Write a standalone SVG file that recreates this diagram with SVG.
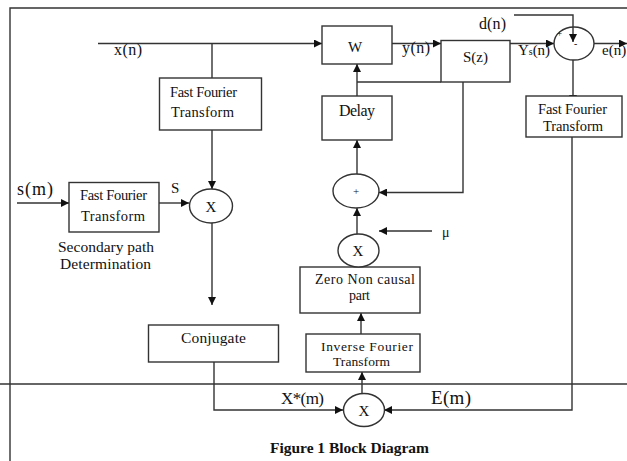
<svg xmlns="http://www.w3.org/2000/svg" width="627" height="461" viewBox="0 0 627 461">
<defs>
<marker id="arr" viewBox="0 0 10 10" refX="10" refY="5" markerWidth="8" markerHeight="8" markerUnits="userSpaceOnUse" orient="auto"><path d="M0,0 L10,5 L0,10 z" fill="#111"/></marker>
<style>
.box{fill:#fff;stroke:#333;stroke-width:1.4}
.ln{fill:none;stroke:#333;stroke-width:1.4}
.c{fill:none;stroke:#333;stroke-width:1.4;marker-end:url(#arr)}
text{font-family:"Liberation Serif","Times New Roman",serif;fill:#111}
.m{text-anchor:middle}
</style>
</defs>
<rect width="627" height="461" fill="#fff"/>
<g id="frame">
<path class="ln" d="M10,461 V8 H627"/>
<path class="ln" d="M0,384 H627"/>
</g>
<g id="connectors">
<path class="c" d="M98,43.5 H322"/>
<path class="c" d="M212,43.5 V88"/>
<path class="c" d="M212,130 V189"/>
<path class="c" d="M17,203 H69"/>
<path class="c" d="M159,203 H189"/>
<path class="c" d="M212,223 V305"/>
<path class="c" d="M214,343 V410 H343"/>
<path class="c" d="M572,137 V410 H384"/>
<path class="c" d="M362,393 V372"/>
<path class="c" d="M361,334 V313"/>
<path class="c" d="M360,285 V267"/>
<path class="c" d="M357,234 V208"/>
<path class="c" d="M432,231 H379"/>
<path class="c" d="M463,82 V192.5 H379"/>
<path class="c" d="M357,174 V140"/>
<path class="c" d="M357,96 V64"/>
<path class="ln" d="M357,82 H441"/>
<path class="c" d="M392,43.5 H441"/>
<path class="c" d="M510,43.5 H554"/>
<path class="c" d="M514,15 H573 V42"/>
<path class="c" d="M594,43.5 H627"/>
<path class="c" d="M573,60 V103"/>
</g>
<g id="fft1">
<rect class="box" x="159.5" y="78" width="102" height="52"/>
<text x="170" y="97" font-size="14.5" textLength="67" lengthAdjust="spacing">Fast Fourier</text>
<text x="171" y="117" font-size="14.5" textLength="63" lengthAdjust="spacing">Transform</text>
</g>
<g id="fft2">
<rect class="box" x="69" y="182.5" width="90" height="49.5"/>
<text x="80" y="200" font-size="14.5" textLength="67" lengthAdjust="spacing">Fast Fourier</text>
<text x="81" y="221" font-size="14.5" textLength="64" lengthAdjust="spacing">Transform</text>
</g>
<g id="mult1">
<ellipse class="box" cx="211" cy="206" rx="21.5" ry="17"/>
<text class="m" x="211" y="212" font-size="15">X</text>
</g>
<g id="conjugate">
<rect class="box" x="148.5" y="325" width="130" height="37"/>
<text x="181" y="343" font-size="15.5" textLength="65" lengthAdjust="spacing">Conjugate</text>
</g>
<g id="mult3">
<ellipse class="box" cx="364" cy="410" rx="20.5" ry="16.5"/>
<text class="m" x="364" y="416" font-size="15">X</text>
</g>
<g id="ifft">
<rect class="box" x="306" y="334" width="114" height="38"/>
<text x="321" y="351" font-size="13.5" textLength="92" lengthAdjust="spacing">Inverse Fourier</text>
<text x="333" y="366" font-size="13.5" textLength="57" lengthAdjust="spacing">Transform</text>
</g>
<g id="zero">
<rect class="box" x="300" y="267" width="120" height="46"/>
<text x="315" y="284" font-size="14" textLength="100" lengthAdjust="spacing">Zero Non causal</text>
<text x="349" y="300" font-size="14" textLength="21" lengthAdjust="spacing">part</text>
</g>
<g id="mult2">
<ellipse class="box" cx="358.5" cy="250.5" rx="20.5" ry="16.5"/>
<text class="m" x="358" y="256" font-size="15">X</text>
</g>
<g id="sum2">
<ellipse class="box" cx="356" cy="191" rx="23" ry="17"/>
<text class="m" x="356" y="195" font-size="11">+</text>
</g>
<g id="delay">
<rect class="box" x="322" y="96" width="70" height="44"/>
<text x="339" y="116" font-size="16" textLength="36" lengthAdjust="spacing">Delay</text>
</g>
<g id="w">
<rect class="box" x="322" y="26" width="70" height="38"/>
<text class="m" x="355" y="52" font-size="15">W</text>
</g>
<g id="sz">
<rect class="box" x="441" y="40.5" width="69" height="41.5"/>
<text x="463" y="62" font-size="15" textLength="25" lengthAdjust="spacing">S(z)</text>
</g>
<g id="sum1">
<ellipse class="ln" cx="574" cy="43.5" rx="20" ry="16.5"/>
<text x="557" y="36" font-size="9">+</text>
<text x="574" y="47" font-size="10">-</text>
</g>
<g id="fft3">
<rect class="box" x="526" y="96" width="96" height="41"/>
<text x="538" y="114" font-size="14.5" textLength="69" lengthAdjust="spacing">Fast Fourier</text>
<text x="543" y="131" font-size="14.5" textLength="60" lengthAdjust="spacing">Transform</text>
</g>
<g id="labels">
<text x="114" y="55" font-size="16" textLength="28" lengthAdjust="spacing">x(n)</text>
<text x="17" y="195" font-size="18" textLength="36" lengthAdjust="spacing">s(m)</text>
<text x="171" y="193" font-size="15">S</text>
<text x="58" y="252" font-size="15.5" textLength="96" lengthAdjust="spacing">Secondary path</text>
<text x="60" y="269" font-size="15.5" textLength="91" lengthAdjust="spacing">Determination</text>
<text x="281" y="404" font-size="17" textLength="43" lengthAdjust="spacing">X*(m)</text>
<text x="431" y="404" font-size="19" textLength="40" lengthAdjust="spacing">E(m)</text>
<text x="442" y="237" font-size="14">μ</text>
<text x="402" y="53" font-size="16" textLength="28" lengthAdjust="spacing">y(n)</text>
<text x="518" y="55" font-size="15" textLength="32" lengthAdjust="spacing">Y<tspan font-size="10">s</tspan>(n)</text>
<text x="479" y="29" font-size="16" textLength="27" lengthAdjust="spacing">d(n)</text>
<text x="602" y="55" font-size="15">e(n)</text>
<text x="270" y="453" font-size="15.5" font-weight="bold" textLength="159" lengthAdjust="spacing">Figure 1 Block Diagram</text>
</g>
</svg>
